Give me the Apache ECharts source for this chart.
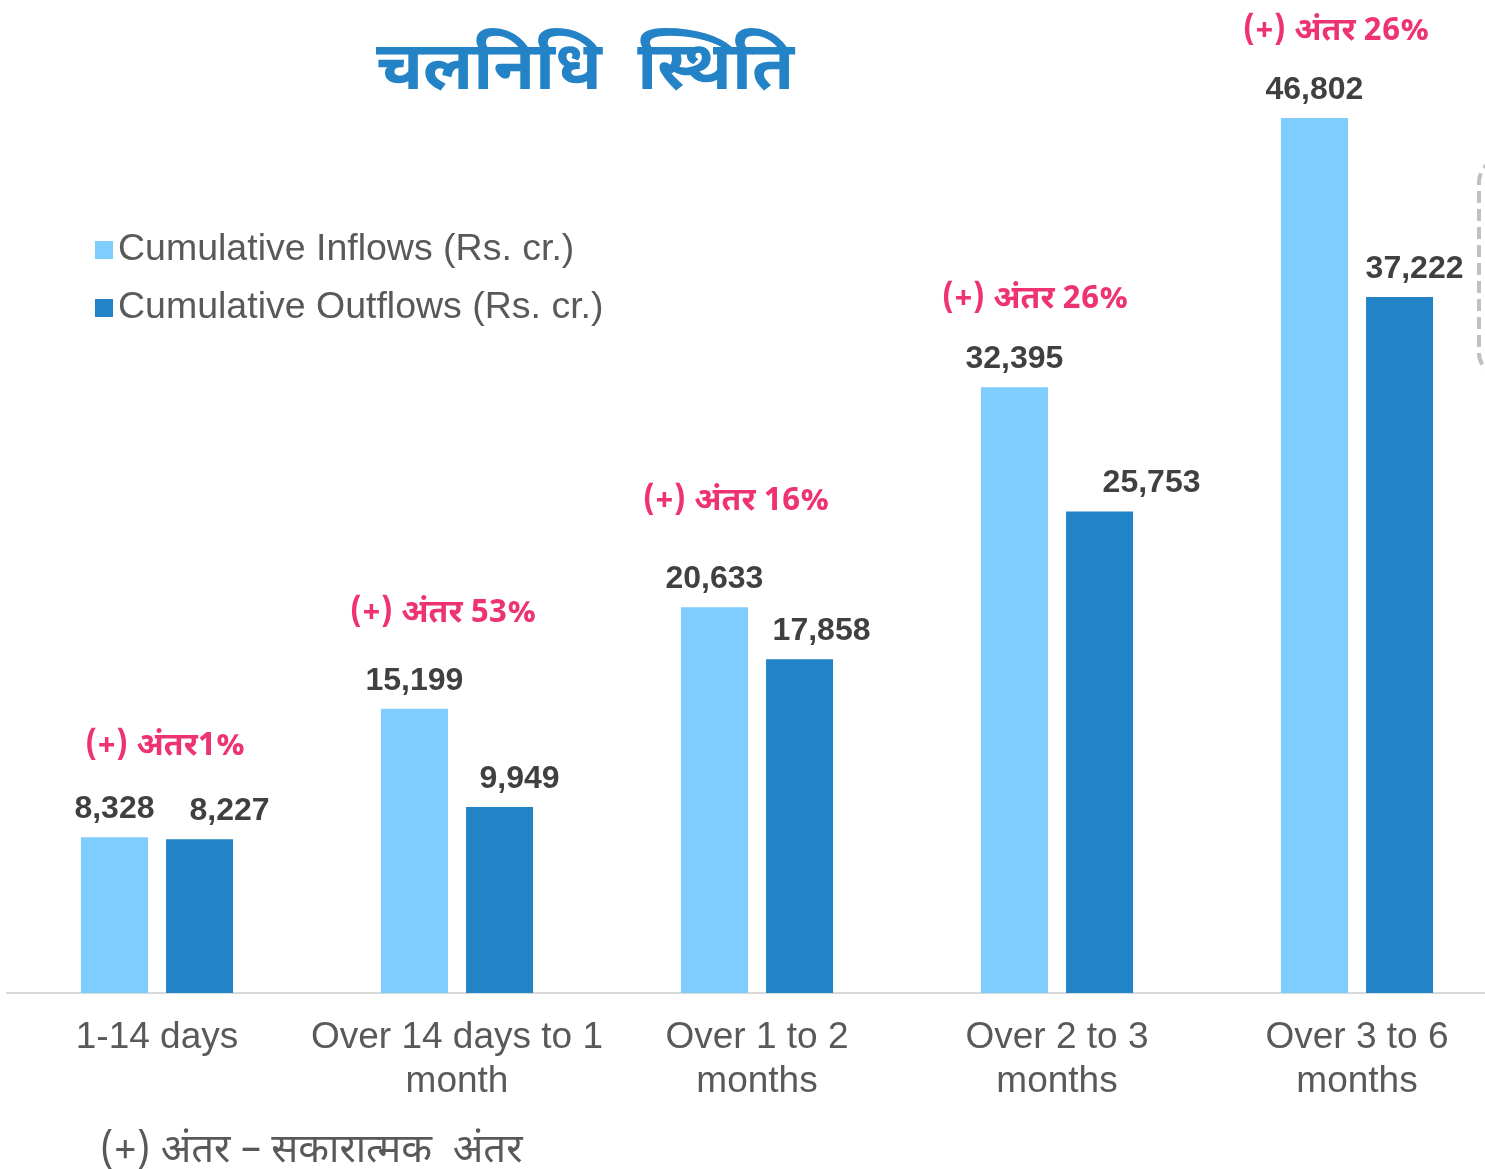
<!DOCTYPE html>
<html>
<head>
<meta charset="utf-8">
<title>चलनिधि स्थिति</title>
<script src="https://cdn.jsdelivr.net/npm/echarts@6/dist/echarts.min.js"></script>
<style>
  html, body { margin: 0; padding: 0; background: #fff; }
  #main { width: 1485px; height: 1169px; }
</style>
</head>
<body>
<div id="main"></div>
<script>
// चलनिधि स्थिति - cumulative inflows vs outflows

var chart = echarts.init(document.getElementById('main'), null, {renderer: 'canvas'});

var buckets = ['1-14 days', 'Over 14 days to 1\nmonth', 'Over 1 to 2\nmonths', 'Over 2 to 3\nmonths', 'Over 3 to 6\nmonths'];
var inflows = [8328, 15199, 20633, 32395, 46802];
var outflows = [8227, 9949, 17858, 25753, 37222];
var gapText = ['(+) अंतर1%', '(+) अंतर 53%', '(+) अंतर 16%', '(+) अंतर 26%', '(+) अंतर 26%'];

// label nudges, px (the labels were hand placed in the original)
var gapNudge = [[8, -88], [-14, -93], [-21, -103], [-22, -85], [-21, -84]];
var outNudge = [30, 20, 22, 52, 15];

var latin = '"Liberation Sans", Arial, sans-serif';
var deva = '"Noto Sans Devanagari", "Noto Sans", "Liberation Sans", sans-serif';

option = {
    animation: false,
    title: {
        text: 'चलनिधि  स्थिति',
        left: 580,
        top: 37,
        textAlign: 'center',
        textStyle: {
            fontFamily: deva,
            fontSize: 68,
            fontWeight: 'bold',
            color: '#2383C6'
        }
    },
    legend: {
        orient: 'vertical',
        left: 90,
        top: 226,
        itemWidth: 18,
        itemHeight: 18,
        itemGap: 20,
        icon: 'rect',
        textStyle: {
            fontFamily: latin,
            fontSize: 37.5,
            color: '#595959'
        },
        data: ['Cumulative Inflows (Rs. cr.)', 'Cumulative Outflows (Rs. cr.)']
    },
    grid: {
        left: 7,
        right: -22,
        top: 118,
        bottom: 176,
        outerBoundsMode: 'none'
    },
    xAxis: {
        type: 'category',
        data: buckets,
        axisLine: {lineStyle: {color: '#D9D9D9', width: 2}},
        axisTick: {show: false},
        axisLabel: {
            interval: 0,
            margin: 23,
            fontFamily: latin,
            fontSize: 37,
            lineHeight: 44,
            color: '#595959'
        }
    },
    yAxis: {
        type: 'value',
        min: 0,
        max: 46802,
        show: false,
        splitLine: {show: false}
    },
    series: [
        {
            name: 'Cumulative Inflows (Rs. cr.)',
            type: 'bar',
            barWidth: 67,
            barGap: '27%',
            itemStyle: {color: '#7FCDFD'},
            label: {
                show: true,
                position: 'top',
                distance: 12,
                fontFamily: latin,
                fontSize: 32,
                fontWeight: 'bold',
                color: '#404040',
                formatter: function (p) { return p.value.toLocaleString('en-IN'); }
            },
            data: inflows
        },
        {
            name: 'Cumulative Outflows (Rs. cr.)',
            type: 'bar',
            barWidth: 67,
            itemStyle: {color: '#2284C6'},
            label: {
                show: true,
                position: 'top',
                distance: 12,
                fontFamily: latin,
                fontSize: 32,
                fontWeight: 'bold',
                color: '#404040',
                formatter: function (p) { return p.value.toLocaleString('en-IN'); }
            },
            data: outflows.map(function (v, i) {
                return {value: v, label: {offset: [outNudge[i], 0]}};
            })
        },
        {
            name: 'gap',
            type: 'scatter',
            symbolSize: 0,
            silent: true,
            label: {
                show: true,
                position: 'inside',
                fontFamily: deva,
                fontSize: 32,
                fontWeight: 'bold',
                color: '#E8004F',
                formatter: function (p) { return gapText[p.dataIndex]; }
            },
            data: inflows.map(function (v, i) {
                return {value: v, label: {offset: gapNudge[i]}};
            })
        }
    ],
    graphic: [
        {
            type: 'text',
            left: 100,
            top: 1135,
            style: {
                text: '(+) अंतर – सकारात्मक  अंतर',
                font: '40px ' + deva,
                fill: '#595959'
            }
        },
        {
            type: 'rect',
            shape: {x: 1479, y: 160, width: 120, height: 215, r: 22},
            style: {fill: 'none', stroke: '#C0C0C0', lineWidth: 4, lineDash: [12, 6]}
        }
    ]
};

chart.setOption(option);
</script>
</body>
</html>
